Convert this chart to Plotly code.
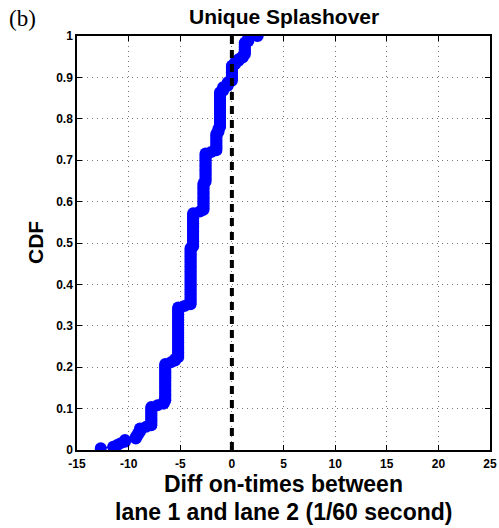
import numpy as np
import plotly.graph_objects as go

# Distinct on-time differences (1/60 s) and how many events had each value
diff_values = [-12.7, -11.5, -11.1, -10.8, -10.35, -9.3, -9.1, -8.9, -8.3, -7.8,
               -7.2, -6.6, -6.45, -5.9, -5.5, -5.2, -4.6, -4.0, -3.75, -3.1,
               -2.75, -2.55, -2.0, -1.5, -1.3, -1.15, -0.85, -0.4, 0.0, 0.3,
               0.65, 1.05, 1.25, 1.6, 2.5]
diff_counts = [1, 1, 1, 1, 2, 2, 2, 3, 1, 12,
               1, 2, 23, 1, 2, 31, 1, 35, 21, 1,
               17, 18, 1, 11, 3, 22, 3, 3, 10, 2,
               2, 2, 8, 3, 1]

reference_x = [0, 0]
reference_y = [0, 1]

x_ticks = [-15, -10, -5, 0, 5, 10, 15, 20, 25]
y_ticks = [0, 0.1, 0.2, 0.3, 0.4, 0.5, 0.6, 0.7, 0.8, 0.9, 1]
y_tick_text = ["0", "0.1", "0.2", "0.3", "0.4", "0.5", "0.6", "0.7", "0.8", "0.9", "1"]

# Empirical CDF of the samples
samples = np.sort(np.repeat(diff_values, diff_counts))
cdf = np.arange(1, len(samples) + 1) / len(samples)

BOLD = "Liberation Sans"
L, R, T, B = 77, 9, 36, 78
W, H = 499, 528
PW, PH = W - L - R, H - T - B

fig = go.Figure()
fig.add_trace(go.Scatter(
    x=samples, y=cdf, mode="lines+markers",
    line=dict(color="#0000ff", width=1.5),
    marker=dict(color="#0000ff", size=12, line=dict(width=0)),
    showlegend=False, hoverinfo="skip",
))
fig.add_trace(go.Scatter(
    x=reference_x, y=reference_y, mode="lines",
    line=dict(color="black", width=4, dash="8px,6px"),
    showlegend=False, hoverinfo="skip",
))

axis_common = dict(
    showline=True, linecolor="black", linewidth=1.5, mirror="ticks",
    ticks="inside", ticklen=5, tickwidth=1, tickcolor="black",
    showgrid=True, gridcolor="#777777", gridwidth=1, griddash="1px,4px",
    zeroline=False, automargin=False,
    tickfont=dict(family=BOLD, size=12, color="black", weight="bold"),
)

fig.update_xaxes(range=[-15, 25], tickvals=x_ticks, ticktext=[str(v) for v in x_ticks],
                 ticklabelstandoff=2, **axis_common)
fig.update_yaxes(range=[0, 1], tickvals=y_ticks, ticktext=y_tick_text, **axis_common)


def px_x(p):
    return (p - L) / PW


def px_y(p):
    return (H - B - p) / PH


fig.update_layout(
    template="none",
    width=W, height=H,
    margin=dict(l=L, r=R, t=T, b=B),
    paper_bgcolor="white", plot_bgcolor="white",
    annotations=[
        dict(text="<b>Unique Splashover</b>", x=0.5, y=px_y(16), xref="paper", yref="paper",
             xanchor="center", yanchor="middle", showarrow=False,
             font=dict(family=BOLD, size=21, color="black")),
        dict(text="(b)", x=px_x(7), y=px_y(18), xref="paper", yref="paper", showarrow=False,
             xanchor="left", yanchor="middle",
             font=dict(family="Liberation Serif", size=23, color="black")),
        dict(text="<b>CDF</b>", x=px_x(35), y=0.5, xref="paper", yref="paper",
             textangle=-90, showarrow=False, xanchor="center", yanchor="middle",
             font=dict(family=BOLD, size=21, color="black")),
        dict(text="<b>Diff on-times between</b>", x=0.5, y=px_y(484), xref="paper",
             yref="paper", showarrow=False, xanchor="center", yanchor="middle",
             font=dict(family=BOLD, size=23, color="black")),
        dict(text="<b>lane 1 and lane 2 (1/60 second)</b>", x=0.5, y=px_y(512),
             xref="paper", yref="paper", showarrow=False, xanchor="center", yanchor="middle",
             font=dict(family=BOLD, size=23, color="black")),
    ],
)

fig.write_html("out.html")
